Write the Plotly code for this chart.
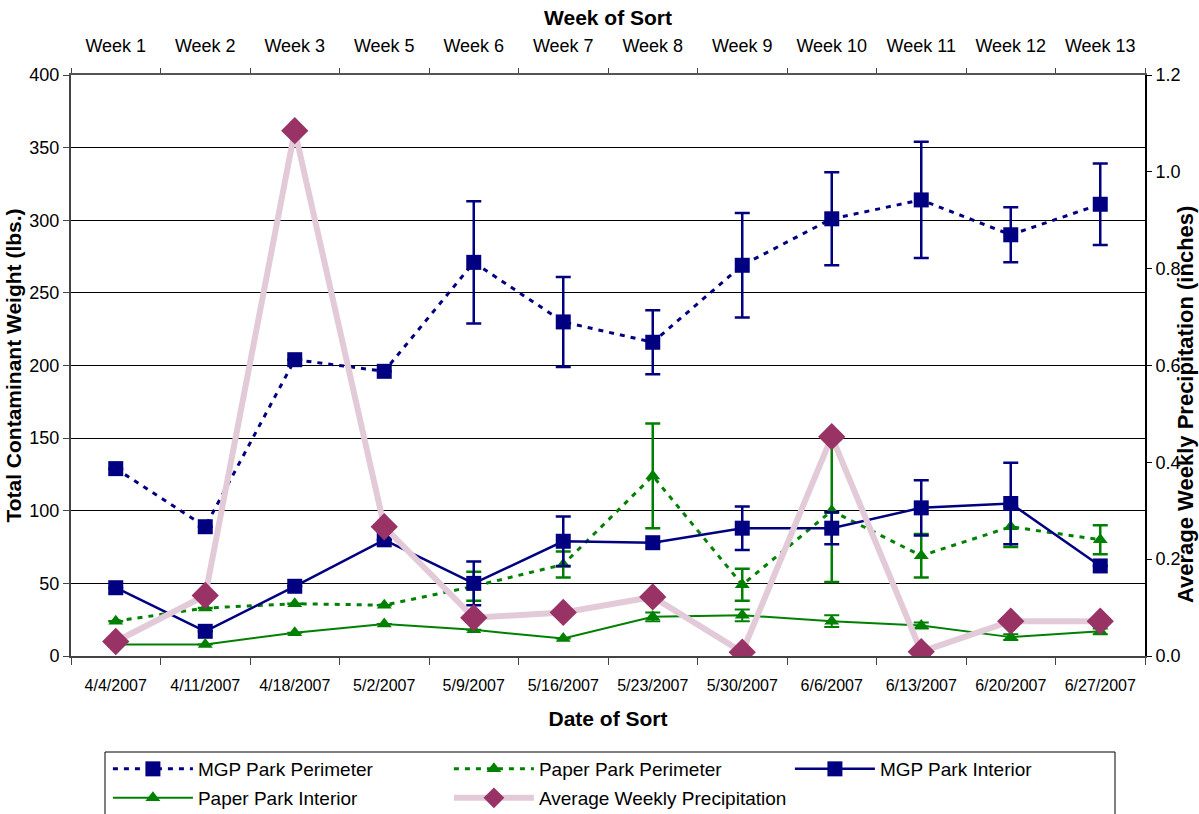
import plotly.graph_objects as go

# ---- data -------------------------------------------------------------
sort_dates = ["4/4/2007", "4/11/2007", "4/18/2007", "5/2/2007", "5/9/2007", "5/16/2007",
              "5/23/2007", "5/30/2007", "6/6/2007", "6/13/2007", "6/20/2007", "6/27/2007"]
sort_weeks = ["Week 1", "Week 2", "Week 3", "Week 5", "Week 6", "Week 7",
              "Week 8", "Week 9", "Week 10", "Week 11", "Week 12", "Week 13"]

mgp_perimeter = [129, 89, 204, 196, 271, 230, 216, 269, 301, 314, 290, 311]
mgp_perimeter_err = [None, None, None, None, 42, 31, 22, 36, 32, 40, 19, 28]

paper_perimeter = [24, 33, 36, 35, 48, 63, 124, 49, 100, 69, 89, 80]
paper_perimeter_err = [None, None, None, None, 10, 9, 36, 11, 49, 15, 14, 10]

mgp_interior = [47, 17, 48, 80, 50, 79, 78, 88, 88, 102, 105, 62]
mgp_interior_err = [None, None, None, None, 15, 17, None, 15, 11, 19, 28, None]

paper_interior = [8, 8, 16, 22, 18, 12, 27, 28, 24, 21, 13, 17]
paper_interior_err = [None, None, None, None, None, None, 3, 4, 4, 2, 2, 2]

precipitation = [0.03, 0.125, 1.085, 0.267, 0.079, 0.09, 0.122, 0.008, 0.453, 0.009, 0.072, 0.072]

# ---- styling ----------------------------------------------------------
NAVY = "#000080"
GREEN = "#008000"
PLUM = "#993366"
PINK_LINE = "#E3CAD8"
FONT = "Arial, Liberation Sans, sans-serif"
DASH = "5px,6px"

fig = go.Figure()


def err(values, color, thickness):
    return dict(type="data", array=values, symmetric=True, visible=True,
                color=color, thickness=thickness, width=7.5)


fig.add_trace(go.Scatter(
    x=sort_dates, y=mgp_perimeter, name="MGP Park Perimeter", mode="lines+markers",
    line=dict(color=NAVY, width=3, dash=DASH),
    marker=dict(symbol="square", size=15, color=NAVY),
    error_y=err(mgp_perimeter_err, NAVY, 2.5), legend="legend"))

fig.add_trace(go.Scatter(
    x=sort_dates, y=paper_perimeter, name="Paper Park Perimeter", mode="lines+markers",
    line=dict(color=GREEN, width=3, dash=DASH),
    marker=dict(symbol="triangle-up", size=13, color=GREEN),
    error_y=err(paper_perimeter_err, GREEN, 2.5), legend="legend"))

fig.add_trace(go.Scatter(
    x=sort_dates, y=mgp_interior, name="MGP Park Interior", mode="lines+markers",
    line=dict(color=NAVY, width=2.5),
    marker=dict(symbol="square", size=15, color=NAVY),
    error_y=err(mgp_interior_err, NAVY, 2.5), legend="legend"))

fig.add_trace(go.Scatter(
    x=sort_dates, y=paper_interior, name="Paper Park Interior", mode="lines+markers",
    line=dict(color=GREEN, width=2),
    marker=dict(symbol="triangle-up", size=13, color=GREEN),
    error_y=err(paper_interior_err, GREEN, 2), legend="legend2"))

fig.add_trace(go.Scatter(
    x=sort_dates, y=precipitation, name="Average Weekly Precipitation", mode="lines+markers",
    line=dict(color=PINK_LINE, width=6),
    marker=dict(symbol="diamond", size=21, color=PLUM),
    yaxis="y2", legend="legend2"))

# helper trace so the top category axis carries the week labels
fig.add_trace(go.Scatter(
    x=sort_weeks, y=mgp_interior, xaxis="x2", mode="markers",
    marker=dict(opacity=0), showlegend=False, hoverinfo="skip"))

tick_font = dict(family=FONT, size=18, color="black")
title_font = dict(family=FONT, size=21, color="black")
legend_font = dict(family=FONT, size=19, color="black")

fig.update_layout(
    width=1199, height=814,
    margin=dict(l=71, r=54, t=75, b=158),
    paper_bgcolor="white", plot_bgcolor="white",
    font=dict(family=FONT, color="black"),
    xaxis=dict(
        type="category", categoryorder="array", categoryarray=sort_dates,
        range=[-0.5, 11.5], tickson="boundaries", ticks="outside", ticklen=7,
        tickcolor="#444", showline=True, linecolor="#444", linewidth=2,
        showgrid=False, ticklabelstandoff=14,
        tickfont=dict(family=FONT, size=16, color="black"),
        title=dict(text="<b>Date of Sort</b>", font=title_font, standoff=18),
        fixedrange=True),
    xaxis2=dict(
        type="category", categoryorder="array", categoryarray=sort_weeks,
        overlaying="x", side="top", range=[-0.5, 11.5], tickson="boundaries",
        ticks="outside", ticklen=5, tickcolor="#444", showline=True,
        linecolor="#555", linewidth=2, showgrid=False, ticklabelstandoff=14,
        tickfont=dict(family=FONT, size=18, color="black"),
        title=dict(text="<b>Week of Sort</b>", font=title_font, standoff=4)),
    yaxis=dict(
        range=[0, 400], dtick=50, ticks="outside", ticklen=6, tickcolor="#444",
        showline=True, linecolor="#444", linewidth=2, showgrid=True,
        gridcolor="black", gridwidth=1, zeroline=False, tickfont=tick_font,
        title=dict(text="<b>Total Contaminant Weight (lbs.)</b>", font=title_font,
                   standoff=2)),
    yaxis2=dict(
        overlaying="y", side="right", range=[0, 1.2], dtick=0.2, tickformat=".1f",
        ticks="outside", ticklen=5, tickcolor="black", showline=True,
        linecolor="black", linewidth=2, showgrid=False, zeroline=False,
        tickfont=tick_font),
    legend=dict(
        orientation="h", xref="container", yref="container",
        x=0.090, y=1 - 769 / 814, xanchor="left", yanchor="middle",
        entrywidth=246, entrywidthmode="pixels", itemwidth=80,
        font=legend_font, bgcolor="rgba(0,0,0,0)", borderwidth=0),
    legend2=dict(
        orientation="h", xref="container", yref="container",
        x=0.090, y=1 - 798 / 814, xanchor="left", yanchor="middle",
        entrywidth=246, entrywidthmode="pixels", itemwidth=80,
        font=legend_font, bgcolor="rgba(0,0,0,0)", borderwidth=0),
    showlegend=True,
)

# right-hand axis title, set over the tick labels
fig.add_annotation(
    text="<b>Average Weekly Precipitation (inches)</b>", textangle=-90,
    xref="paper", yref="paper", x=(1185 - 71) / 1074, y=(656 - 405) / 581,
    showarrow=False, font=dict(family=FONT, size=22, color="black"),
    xanchor="center", yanchor="middle")

# frame around the legend rows
fig.add_shape(
    type="rect", xref="paper", yref="paper",
    x0=(105 - 71) / 1074, x1=(1115 - 71) / 1074,
    y0=(656 - 752) / 581, y1=(656 - 830) / 581,
    line=dict(color="black", width=1), fillcolor="rgba(0,0,0,0)", layer="above")

fig.write_html("out.html")
